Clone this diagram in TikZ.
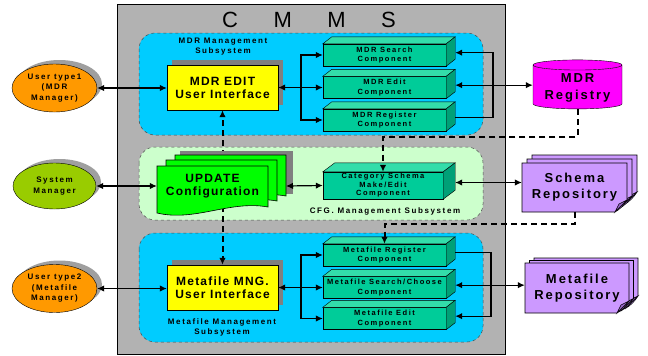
\documentclass[tikz,border=0pt]{standalone}
\usepackage{fontspec}
\setmainfont{Liberation Sans}
\newfontfamily\bigf{Liberation Sans}[LetterSpace=10]
\newfontfamily\smallf{Liberation Sans}[LetterSpace=20]
\newfontfamily\repof{Liberation Sans}[LetterSpace=15]
\usetikzlibrary{shapes.geometric,shadows,arrows.meta}

\definecolor{cmmsgray}{HTML}{B2B2B2}
\definecolor{subblue}{HTML}{00CCFF}
\definecolor{subgreen}{HTML}{CCFFCC}
\definecolor{uiyellow}{HTML}{FFFF00}
\definecolor{compfront}{HTML}{00CC99}
\definecolor{comptop}{HTML}{33DDAA}
\definecolor{compside}{HTML}{00A077}
\definecolor{updgreen}{HTML}{00FF00}
\definecolor{userorange}{HTML}{FF9900}
\definecolor{sysgreen}{HTML}{99CC00}
\definecolor{regmag}{HTML}{FF00FF}
\definecolor{repopurple}{HTML}{CC99FF}
\definecolor{repofold}{HTML}{9966CC}
\definecolor{shadegray}{HTML}{808080}

\tikzset{
  >={Latex[length=7pt,width=6.5pt]},
  subsys/.style={draw=gray!60!black, dashed, rounded corners=16pt, line width=0.5pt},
  uibox/.style={draw, fill=uiyellow, minimum width=111pt, minimum height=45pt, align=center,
    font=\bigf\bfseries\fontsize{12}{13}\selectfont,
    drop shadow={shadow xshift=5pt, shadow yshift=5pt, fill=shadegray, opacity=1}},
  compbox/.style={draw, fill=compfront, minimum width=123pt, minimum height=22pt, inner sep=1pt,
    align=center, font=\smallf\bfseries\fontsize{7.5}{9.5}\selectfont},
  user/.style={ellipse, draw, minimum width=85pt, minimum height=48pt, inner sep=0pt, align=center,
    font=\smallf\bfseries\fontsize{8}{10.5}\selectfont,
    drop shadow={shadow xshift=5pt, shadow yshift=4pt, fill=gray!75, opacity=1}},
  sublabel/.style={align=center, font=\smallf\bfseries\fontsize{8}{10}\selectfont},
  bigtext/.style={align=center, minimum width=111pt, font=\bigf\bfseries\fontsize{12}{13}\selectfont},
  repotext/.style={align=center, font=\repof\bfseries\fontsize{13}{15.5}\selectfont},
  link/.style={line width=1.2pt},
  dsh/.style={line width=2pt, dash pattern=on 6pt off 4pt},
  sheet/.style={draw, line width=0.6pt},
}

\begin{document}
\begin{tikzpicture}[x=1pt,y=-1pt]

  \newcommand\repsheet[4]{%
    \draw[sheet, fill=repopurple] (#1,#2) -- ++(#3,0) -- ++(0,#4-12)
      .. controls +(-3,5) and +(4,-2) .. ++(-12,12) -- ++(-#3+12,0) -- cycle;
    \draw[sheet, fill=repofold] (#1+#3-12,#2+#4) -- (#1+#3-8,#2+#4-8) -- (#1+#3,#2+#4-12) -- cycle;
  }

  \useasboundingbox (0,0) rectangle (648,356);

  % CMMS frame
  \draw[fill=cmmsgray, line width=0.8pt] (117,4) rectangle (505,354);
  \node[font=\fontsize{22}{24}\selectfont] (title) at (309,20)
    {C\hspace{35.5pt}M\hspace{35.5pt}M\hspace{35.5pt}S};

  \draw[subsys, fill=subblue] (139,33) rectangle (483,135);
  \draw[subsys, fill=subgreen] (139,147) rectangle (483,220);
  \draw[subsys, fill=subblue] (139,233) rectangle (483,342);

  \node[sublabel] (mdrlbl) at (223,47) {MDR Management\\Subsystem};
  \node[sublabel] (cfglbl) at (385,211) {CFG. Management Subsystem};
  \node[sublabel] (metalbl) at (222,327) {Metafile Management\\Subsystem};

  % users
  \node[user, fill=userorange] (u1) at (54.5,88) {User type1\\(MDR\\Manager)};
  \node[user, fill=sysgreen, minimum width=83pt, minimum height=46pt] (sm) at (54.5,186) {System\\Manager};
  \node[user, fill=userorange] (u2) at (54.5,288.5) {User type2\\(Metafile\\Manager)};

  \node[uibox] (mdrui) at (222.5,87.5) {MDR EDIT\\User Interface};
  \node[uibox] (metaui) at (222.5,287.5) {Metafile MNG.\\User Interface};

  \draw[dsh,->] (mdrui.south |- sm) -- (mdrui.south);
  \draw[dsh,->] (metaui.north |- sm) -- (metaui.north);

  % UPDATE stack
  \begin{scope}[shift={(157,166)}]
    \fill[shadegray] (23,-15) rectangle (136,28);
    \foreach \s/\t in {18/-11, 9/-6, 0/0}
      \draw[sheet, fill=updgreen] (\s,\t) -- ++(111,0) -- ++(0,41)
        .. controls +(-38,-7) and +(38,9) .. ++(-111,6) -- cycle;
  \end{scope}
  \node[bigtext] (upd) at (212.5,186.5) {UPDATE\\Configuration};
  \coordinate (upd-r) at (286,186);

  % components
  \node[compbox] (ms) at (384.5,55) {MDR Search\\Component};
  \node[compbox] (me) at (384.5,87.5) {MDR Edit\\Component};
  \node[compbox] (mr) at (384.5,120) {MDR Register\\Component};
  \node[compbox, minimum width=120pt, minimum height=27pt,
    font=\smallf\bfseries\fontsize{7.5}{8.5}\selectfont] (cat) at (383,185.5)
    {Category Schema\\Make/Edit\\Component};
  \node[compbox] (fr) at (384.5,255) {Metafile Register\\Component};
  \node[compbox] (fs) at (384.5,287.5) {Metafile Search/Choose\\Component};
  \node[compbox] (fe) at (384.5,318.5) {Metafile Edit\\Component};

  \foreach \n/\a/\b in {ms/9/7, me/9/7, mr/9/7, cat/12/9, fr/9/7, fs/9/7, fe/9/7} {
    \draw[fill=comptop] (\n.north west) -- ++(\a,-\b) -- ([shift={(\a,-\b)}]\n.north east)
      -- (\n.north east) -- cycle;
    \draw[fill=compside] (\n.north east) -- ([shift={(\a,-\b)}]\n.north east)
      -- ([shift={(\a,-\b)}]\n.south east) -- (\n.south east) -- cycle;
    \coordinate (\n-r) at ([shift={(\a,-\b/3)}]\n.east);
  }

  % repositories
  \node[cylinder, shape border rotate=90, aspect=0.14, draw, cylinder uses custom fill,
    cylinder body fill=regmag, cylinder end fill=regmag, minimum width=89pt, minimum height=49pt,
    align=center, font=\repof\bfseries\fontsize{13}{17}\selectfont] (reg) at (577.5,88) {MDR\\Registry};

  \repsheet{532}{155}{105}{49}
  \repsheet{527}{159}{105}{49}
  \repsheet{522}{163}{105}{49}
  \node[repotext, minimum width=105pt, minimum height=49pt] (srep) at (574.5,187) {Schema\\Repository};

  \repsheet{534}{258}{104}{50}
  \repsheet{529.5}{260.5}{104}{50}
  \repsheet{525}{263}{104}{50}
  \node[repotext, minimum width=104pt, minimum height=50pt] (mrep) at (577,288) {Metafile\\Repository};

  % MDR side
  \coordinate (fkA) at (301,87.5);
  \coordinate (lpA) at (493,0);
  \draw[link,<->] (u1.east) -- (u1.east -| mdrui.west);
  \draw[link,<->] (mdrui.east) -- (me.west);
  \draw[link,->] (fkA) |- (ms.west);
  \draw[link,->] (fkA) |- (mr.west);
  \draw[link,->] (mr-r) -- (mr-r -| lpA) -- (ms-r -| lpA) -- (ms-r);
  \draw[link,<->] (me-r) -- (me-r -| reg.west);

  % CFG side
  \draw[link,<->] (sm.east) -- (sm.east -| upd.west);
  \draw[link,<->] (upd-r) -- (cat.west);
  \draw[link,<->] (cat-r) -- (cat-r -| srep.west);

  % Metafile side
  \coordinate (fkB) at (301,287.5);
  \coordinate (lpB) at (491,0);
  \draw[link,<->] (u2.east) -- (u2.east -| metaui.west);
  \draw[link,<->] (metaui.east) -- (fs.west);
  \draw[link,->] (fkB) |- (fr.west);
  \draw[link,->] (fkB) |- (fe.west);
  \draw[link,->] (fr-r) -- (fr-r -| lpB) -- (fe-r -| lpB) -- (fe-r);
  \draw[link,<->] (fs-r) -- (fs-r -| mrep.west);

  % dashed feeds
  \coordinate (dA) at (0,137);
  \coordinate (dB) at (0,224);
  \draw[dsh,->] (reg.bottom) -- (reg.bottom |- dA) -| (cat.north);
  \draw[dsh,->] (srep.south) -- (srep.south |- dB) -| (fr.north);

\end{tikzpicture}
\end{document}
